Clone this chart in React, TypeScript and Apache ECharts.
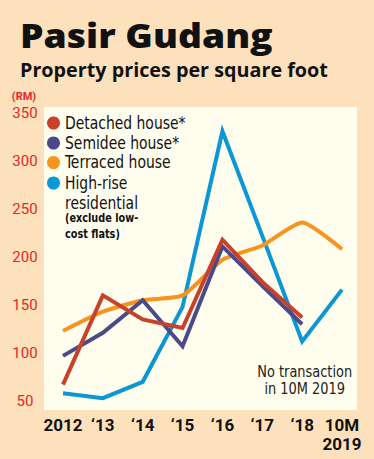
import React, { useEffect, useRef } from "react";
import * as echarts from "echarts";

const categories = ["2012", "‘13", "‘14", "‘15", "‘16", "‘17", "‘18", "10M\n2019"];
const detached = [67, 160, 135, 126, 218, 174, 137, null];
const semidee = [97, 121, 155, 107, 211, 170, 130, null];
const terraced = [123, 143, 155, 160, 197, 212, 236, 208];
const highRise = [58, 53, 70, 148, 331, 222, 112, 166];

const seriesNames = ["Detached house*", "Semidee house*", "Terraced house", "High-rise"];
const seriesColors = ["#c8412a", "#4a4a8a", "#f7941e", "#0b96d4"];

const NARROW = "'DejaVu Sans Condensed', 'DejaVu Sans', sans-serif";
const AXISFONT = "Roboto, 'DejaVu Sans Condensed', sans-serif";

export default function App() {
  const ref = useRef<HTMLDivElement>(null);
  useEffect(() => {
    if (!ref.current) return;
    const chart = echarts.init(ref.current, undefined, { renderer: "svg" });

    const legendRows = [123, 143, 162.5, 183];
    const legendGraphics: any[] = [];
    seriesNames.forEach((name, i) => {
      legendGraphics.push({
        type: "circle",
        shape: { cx: 53.5, cy: legendRows[i], r: 6.5 },
        style: { fill: seriesColors[i] },
        z: 10,
      });
      legendGraphics.push({
        type: "text",
        x: 65,
        y: legendRows[i],
        scaleX: 0.91,
        style: { text: name, font: `17px ${NARROW}`, fill: "#111", verticalAlign: "middle" },
        z: 10,
      });
    });
    legendGraphics.push({
      type: "text",
      x: 65,
      y: 203,
      scaleX: 0.91,
      style: { text: "residential", font: `17px ${NARROW}`, fill: "#111", verticalAlign: "middle" },
      z: 10,
    });
    legendGraphics.push({
      type: "text",
      x: 65,
      y: 218,
      scaleX: 0.9,
      style: { text: "(exclude low-", font: `bold 12px ${NARROW}`, fill: "#111", verticalAlign: "middle" },
      z: 10,
    });
    legendGraphics.push({
      type: "text",
      x: 65,
      y: 234,
      scaleX: 0.9,
      style: { text: "cost flats)", font: `bold 12px ${NARROW}`, fill: "#111", verticalAlign: "middle" },
      z: 10,
    });

    const mk = (i: number, data: (number | null)[], smooth: number | boolean = false) => ({
      name: seriesNames[i],
      type: "line",
      data,
      smooth,
      symbol: "none",
      lineStyle: { color: seriesColors[i], width: 4, cap: "butt", join: "miter" },
      itemStyle: { color: seriesColors[i] },
    });

    chart.setOption({
      animation: false,
      backgroundColor: "#fde1bd",
      grid: { left: 63, right: 32, top: 113, bottom: 58 },
      graphic: [
        {
          type: "rect",
          shape: { x: 44, y: 107, width: 313, height: 303 },
          style: { fill: "#fffdee" },
          z: -10,
          silent: true,
        },
        {
          type: "text",
          x: 20,
          y: 35,
          scaleX: 1.13,
          style: { text: "Pasir Gudang", font: "800 33px 'Open Sans', sans-serif", fill: "#111", verticalAlign: "middle" },
        },
        {
          type: "text",
          x: 20,
          y: 70,
          scaleX: 1.04,
          style: { text: "Property prices per square foot", font: "bold 19px 'Open Sans', sans-serif", fill: "#111", verticalAlign: "middle" },
        },
        {
          type: "text",
          x: 24,
          y: 96,
          style: { text: "(RM)", font: `bold 11px ${AXISFONT}`, fill: "#e8262a", align: "center", verticalAlign: "middle" },
        },
        {
          type: "text",
          x: 293,
          y: 380,
          scaleX: 0.96,
          originX: 293,
          style: {
            text: "No transaction\nin 10M 2019",
            font: `15px ${NARROW}`,
            lineHeight: 17,
            fill: "#222",
            align: "center",
            verticalAlign: "middle",
          },
          z: 10,
        },
        ...legendGraphics,
      ],
      xAxis: {
        type: "category",
        data: categories,
        boundaryGap: false,
        axisLine: { show: false },
        axisTick: { show: false },
        axisLabel: {
          interval: 0,
          margin: 14,
          color: "#111",
          fontFamily: AXISFONT,
          fontWeight: "bold",
          fontSize: 17,
          lineHeight: 19,
          verticalAlign: "top",
        },
      },
      yAxis: {
        type: "value",
        min: 50,
        max: 350,
        interval: 50,
        splitLine: { show: false },
        axisLine: { show: false },
        axisTick: { show: false },
        axisLabel: {
          color: "#e8262a",
          fontFamily: AXISFONT,
          fontSize: 15,
          align: "center",
          margin: 38,
        },
      },
      series: [mk(3, highRise), mk(2, terraced, 0.2), mk(1, semidee), mk(0, detached)],
    });
    return () => chart.dispose();
  }, []);
  return <div ref={ref} style={{ width: 374, height: 459, position: "absolute", left: 0, top: 0 }} />;
}
